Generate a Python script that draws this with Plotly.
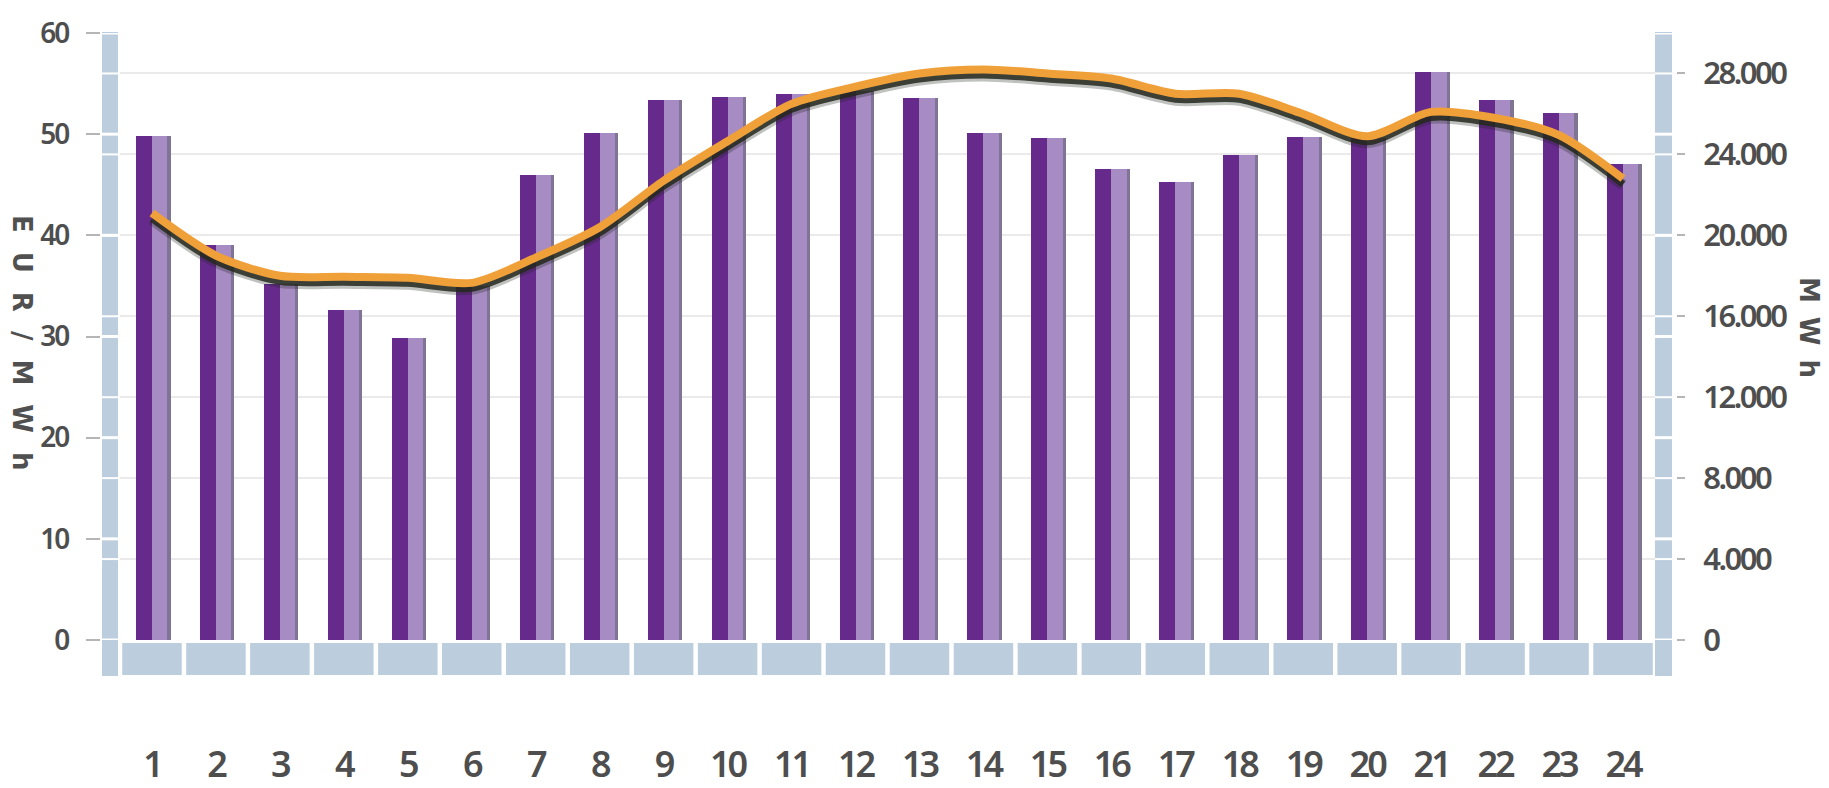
import plotly.graph_objects as go

# Hourly data: day-ahead price (EUR/MWh) and traded volume (MWh)
hours = list(range(1, 25))
hour_labels = [str(h) for h in hours]
price_eur_mwh = [49.8, 39.0, 35.2, 32.6, 29.9, 35.0, 46.0, 50.1, 53.4, 53.7, 54.0, 54.3,
                 53.6, 50.1, 49.6, 46.6, 45.3, 47.9, 49.7, 49.6, 56.1, 53.4, 52.1, 47.1]
volume_mwh = [21100, 19000, 18000, 17950, 17900, 17650, 18900, 20400, 22700, 24650, 26500, 27350,
              28000, 28200, 28000, 27750, 27000, 27000, 26000, 24900, 26100, 25800, 24950, 22800]
price_ticks = [0, 10, 20, 30, 40, 50, 60]
volume_ticks = [0, 4000, 8000, 12000, 16000, 20000, 24000, 28000]

W, H = 1829, 788
PX = lambda x: x / W          # pixel -> paper (horizontal)
PY = lambda y: 1 - y / H      # pixel -> paper (vertical, from top)

DARK = "#662A8C"
LIGHT = "#A78BC3"
EDGE = "#7E7494"
STRIP = "#BCCDDD"
ORANGE = "#F0A038"
TXT = "#4E4E4E"
TICK_FONT = "Noto Sans, Roboto, sans-serif"


def tight(s, ls):
    # tick label with tightened letter spacing
    return f'<span style="letter-spacing:{ls}px">{s}</span>'


VMAX = 30000
px_per_mwh = 607 / VMAX

fig = go.Figure()

# 3D-looking bars: a shaded side, a light face and the dark front
fig.add_trace(go.Bar(x=hours, y=price_eur_mwh, offset=0.0, width=0.29,
                     marker=dict(color=EDGE, line_width=0), yaxis="y", hoverinfo="skip"))
fig.add_trace(go.Bar(x=hours, y=price_eur_mwh, offset=0.0, width=0.24,
                     marker=dict(color=LIGHT, line_width=0), yaxis="y", hoverinfo="skip"))
fig.add_trace(go.Bar(x=hours, y=price_eur_mwh, offset=-0.25, width=0.25,
                     marker=dict(color=DARK, line_width=0), yaxis="y", name="EUR/MWh"))

# drop shadow of the volume line (soft halo + core), on axes shifted a few pixels down
fig.add_trace(go.Scatter(x=hours, y=volume_mwh, mode="lines", yaxis="y2",
                         line=dict(color="rgba(30,35,30,0.28)", width=11, shape="spline", smoothing=0.8),
                         hoverinfo="skip"))
fig.add_trace(go.Scatter(x=hours, y=volume_mwh, mode="lines", yaxis="y4",
                         line=dict(color="rgba(35,40,28,0.85)", width=7, shape="spline", smoothing=0.8),
                         hoverinfo="skip"))
# volume line
fig.add_trace(go.Scatter(x=hours, y=volume_mwh, mode="lines", yaxis="y5", name="MWh",
                         line=dict(color=ORANGE, width=8, shape="spline", smoothing=0.8)))

shapes = []
# ruler strips at both sides of the plot
for x0, x1 in [(102, 118), (1655, 1672)]:
    shapes.append(dict(type="rect", xref="paper", yref="paper",
                       x0=PX(x0), x1=PX(x1), y0=PY(676), y1=PY(32),
                       fillcolor=STRIP, line_width=0, layer="below"))
    for v in price_ticks:
        shapes.append(dict(type="line", xref="paper", yref="y", x0=PX(x0), x1=PX(x1),
                           y0=v, y1=v, line=dict(color="white", width=3)))
    for v in volume_ticks:
        shapes.append(dict(type="line", xref="paper", yref="y5", x0=PX(x0), x1=PX(x1),
                           y0=v, y1=v, line=dict(color="white", width=2)))
# base blocks under every hour
for h in hours:
    shapes.append(dict(type="rect", xref="x", yref="paper", x0=h - 0.465, x1=h + 0.465,
                       y0=PY(675), y1=PY(643), fillcolor=STRIP, line_width=0, layer="below"))

title_font = dict(family="DejaVu Sans, sans-serif", size=26, color="#505050", weight="bold")
annotations = [
    dict(text='<span style="letter-spacing:19px">EUR/MWh</span>', xref="paper", yref="paper",
         x=PX(22), y=PY(352), textangle=90, showarrow=False, font=title_font,
         xanchor="center", yanchor="middle"),
    dict(text='<span style="letter-spacing:14px">MWh</span>', xref="paper", yref="paper",
         x=PX(1809), y=PY(334), textangle=90, showarrow=False, font=title_font,
         xanchor="center", yanchor="middle"),
]

plot_dom = [PY(640), PY(33)]
fig.update_layout(
    width=W, height=H,
    margin=dict(l=0, r=0, t=0, b=0, autoexpand=False),
    paper_bgcolor="white", plot_bgcolor="white",
    barmode="overlay", bargap=0, showlegend=False,
    xaxis=dict(domain=[PX(120), PX(1655)], range=[0.5, 24.5], automargin=False,
               tickmode="array", tickvals=hours, ticktext=[tight(s, -3) for s in hour_labels],
               showgrid=False, zeroline=False, showline=False, ticks="",
               ticklabelstandoff=100,
               tickfont=dict(family=TICK_FONT, size=36, color=TXT, weight=600)),
    yaxis=dict(domain=plot_dom, range=[0, 60], automargin=False,
               tickmode="array", tickvals=price_ticks,
               ticktext=[tight(v, -2) for v in price_ticks],
               anchor="free", position=PX(100),
               showgrid=False, zeroline=False, showline=False,
               ticks="outside", ticklen=14, tickwidth=2, tickcolor="#B5B5B5",
               ticklabelstandoff=12,
               tickfont=dict(family=TICK_FONT, size=28, color=TXT, weight=600)),
    yaxis2=dict(overlaying="y", range=[6.5 / px_per_mwh, VMAX + 6.5 / px_per_mwh],
                visible=False, automargin=False),
    yaxis4=dict(overlaying="y", range=[5.5 / px_per_mwh, VMAX + 5.5 / px_per_mwh],
                visible=False, automargin=False),
    yaxis5=dict(overlaying="y", side="right", range=[0, VMAX], automargin=False,
                anchor="free", position=PX(1676),
                tickmode="array", tickvals=volume_ticks,
                ticktext=[tight(f"{v:,}".replace(",", "."), -2.5) for v in volume_ticks],
                showgrid=True, gridcolor="#EAEAEA", gridwidth=2,
                zeroline=False, showline=False,
                ticks="outside", ticklen=8, tickwidth=2, tickcolor="#B5B5B5",
                ticklabelstandoff=12,
                tickfont=dict(family=TICK_FONT, size=31, color=TXT, weight=600)),
    shapes=shapes,
    annotations=annotations,
)

fig.write_html("out.html")
